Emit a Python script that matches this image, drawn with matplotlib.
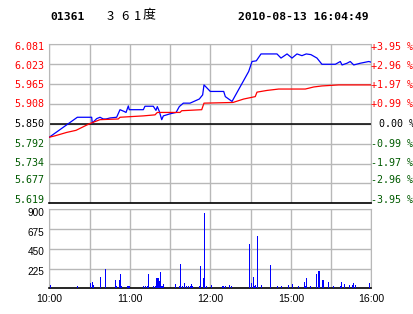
import numpy as np
import matplotlib.pyplot as plt

# price line (minute from 10:00, price)
price_min = [0, 20.9, 31.6, 32.0, 35.3, 37.8, 40.2, 42.3, 45.3, 50.2, 52.7, 55.7, 57.2, 58.9, 59.6,
             70.1, 71.3, 77.5, 79.5, 80.5, 82.0, 83.8, 85.0, 90.0, 94.5, 96.9, 99.9, 104.9, 111.8,
             114.3, 115.3, 116.8, 120.0, 130.0, 131.2, 136.2, 148.6, 151.1, 154.3, 157.8, 169.7,
             172.7, 177.2, 180.9, 184.6, 188.3, 191.5, 195.0, 199.5, 203.2, 213.2, 216.9, 218.2,
             221.9, 224.3, 226.9, 231.8, 238.1, 240]
price_val = [5.811, 5.869, 5.869, 5.852, 5.865, 5.869, 5.864, 5.864, 5.867, 5.869, 5.891, 5.886,
             5.883, 5.902, 5.891, 5.891, 5.901, 5.901, 5.889, 5.900, 5.886, 5.862, 5.873, 5.879,
             5.883, 5.900, 5.910, 5.910, 5.922, 5.934, 5.963, 5.957, 5.944, 5.944, 5.929, 5.915,
             6.002, 6.031, 6.033, 6.053, 6.053, 6.041, 6.053, 6.041, 6.053, 6.048, 6.053, 6.051,
             6.041, 6.023, 6.023, 6.031, 6.021, 6.026, 6.031, 6.021, 6.026, 6.031, 6.029]

# average price line
avg_min = [0, 4.2, 13.0, 19.9, 29.8, 37.8, 51.4, 52.7, 70.1, 78.8, 80.5, 97.4, 98.7, 113.6, 115.3,
           136.9, 144.9, 153.5, 154.8, 162.3, 171.0, 190.8, 197.1, 203.2, 215.7, 240]
avg_val = [5.811, 5.815, 5.825, 5.831, 5.850, 5.862, 5.864, 5.869, 5.873, 5.876, 5.883, 5.883,
           5.888, 5.891, 5.910, 5.912, 5.922, 5.929, 5.942, 5.947, 5.951, 5.951, 5.957, 5.960,
           5.963, 5.963]

# volume bars
vol_min = [1, 21, 31, 32, 33, 38, 42, 49, 50, 52, 53, 54, 58, 59, 60, 70, 72, 73, 74, 78, 79, 80,
           81, 82, 83, 84, 85, 94, 97, 98, 99, 101, 102, 104, 105, 106, 107, 112, 113, 115, 116,
           117, 121, 129, 130, 131, 134, 136, 149, 151, 152, 153, 154, 155, 158, 165, 170, 173,
           178, 181, 186, 190, 191, 192, 195, 199, 201, 204, 208, 212, 217, 218, 220, 224, 226,
           227, 228, 239]
vol_val = [38, 26, 57, 70, 38, 129, 220, 95, 26, 95, 163, 26, 26, 26, 26, 26, 26, 26, 163, 26, 26,
           117, 117, 83, 185, 26, 48, 48, 26, 277, 26, 60, 26, 26, 26, 48, 26, 26, 254, 117, 860,
           26, 38, 26, 26, 26, 38, 26, 505, 60, 129, 26, 38, 596, 38, 265, 26, 26, 38, 48, 26, 70,
           26, 117, 26, 163, 197, 95, 70, 26, 26, 70, 48, 38, 38, 60, 38, 60]

pre_close = 5.850
left_labels = ['6.081', '6.023', '5.965', '5.908', '5.850', '5.792', '5.734', '5.677', '5.619']
right_labels = ['+3.95 %', '+2.96 %', '+1.97 %', '+0.99 %', '0.00 %',
                '-0.99 %', '-1.97 %', '-2.96 %', '-3.95 %']
vol_ticks = [225, 450, 675, 900]
time_labels = ['10:00', '', '11:00', '', '12:00', '', '15:00', '', '16:00']

red = '#ff0000'
green = '#005a00'
gridc = '#b8b8b8'
mono = 'DejaVu Sans Mono'

fig = plt.figure(figsize=(4.14, 3.14), dpi=100)
W, H = 414, 314
xt = np.arange(0, 241, 30)

ax = fig.add_axes([49.3 / W, 1 - 203.3 / H, 322 / W, 159 / H])
lo, hi = 5.619, 6.081
yt = np.linspace(hi, lo, 9)
for x in xt:
    ax.axvline(x, color=gridc, lw=1.0, zorder=1.5)
for y in yt:
    ax.axhline(y, color=gridc, lw=1.0, zorder=1.5)
ax.axhline(pre_close, color='black', lw=1.1, zorder=2)
ax.plot(price_min, price_val, color='#0000ff', lw=0.9, zorder=3)
ax.plot(avg_min, avg_val, color=red, lw=0.9, zorder=3)
ax.set_xlim(0, 240)
ax.set_ylim(lo, hi)
ax.set_xticks([])
ax.set_yticks([])
for s in ['left', 'top', 'right']:
    ax.spines[s].set_color(gridc)
ax.spines['bottom'].set_color('black')
ax.spines['bottom'].set_linewidth(1.2)

# side labels, nudged like the reference (positive = down, in pixels)
shift = [2.4, 1.4, 1, 0, 0.6, 0, -1, -3, -3]
for i, y in enumerate(yt):
    c = red if i < 4 else ('black' if i == 4 else green)
    dy = shift[i] * (hi - lo) / 159
    ax.text(-5 / 322, y - dy, left_labels[i], transform=ax.get_yaxis_transform(), ha='right',
            va='center', family=mono, fontsize=7.2, color=c)
    xpos = 1.0 if i != 4 else 1.0 + 8 / 322
    ax.text(xpos, y - dy, right_labels[i], transform=ax.get_yaxis_transform(), ha='left',
            va='center', family=mono, fontsize=7.2, color=c)

axv = fig.add_axes([49.3 / W, 1 - 288.3 / H, 322 / W, 79 / H])
for x in xt:
    axv.axvline(x, color=gridc, lw=1.0, zorder=1.5)
for y in vol_ticks:
    axv.axhline(y, color=gridc, lw=1.0, zorder=1.5)
axv.bar(vol_min, vol_val, width=0.8, color='#0000ff', zorder=3)
axv.set_xlim(0, 240)
axv.set_ylim(0, 900)
axv.set_yticks([])
for v in vol_ticks:
    axv.text(-5 / 322, v - 3.5 * 900 / 79, str(v), transform=axv.get_yaxis_transform(),
             ha='right', va='center', family='Liberation Sans', fontsize=7.2)
axv.set_xticks(xt)
axv.set_xticklabels(time_labels, family='Liberation Sans', fontsize=7.6)
axv.tick_params(length=0, pad=4)
for s in ['left', 'top', 'right']:
    axv.spines[s].set_color(gridc)
axv.spines['bottom'].set_color('black')
axv.spines['bottom'].set_linewidth(1.2)

fig.text(50 / W, 1 - 17 / H, '01361', family=mono, weight='bold', fontsize=8.2, va='center')
cjk = ['Noto Sans CJK SC', 'DejaVu Sans']
for ch, px in zip(['3', '6', '1', '度'], [107, 121, 134, 142.5]):
    fig.text(px / W, 1 - 16 / H, ch, family=cjk, fontsize=9.4, va='center')
fig.text(238 / W, 1 - 17 / H, '2010-08-13 16:04:49', family=mono, weight='bold',
         fontsize=8.2, va='center')

fig.savefig('out.png', dpi=100)
